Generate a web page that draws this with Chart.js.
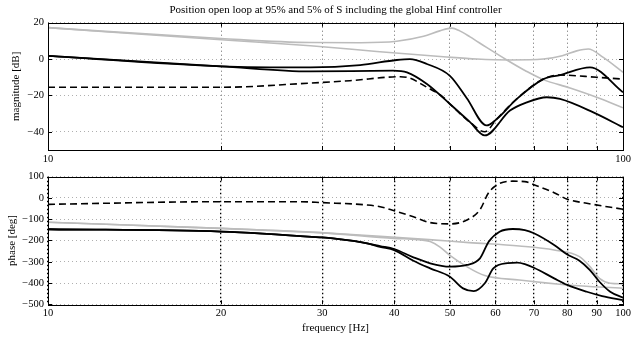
<!DOCTYPE html>
<html><head><meta charset="utf-8">
<script src="https://cdn.jsdelivr.net/npm/chart.js@4"></script>
<style>
html,body{margin:0;padding:0;background:#fff;}
#wrap{position:relative;width:631px;height:341px;overflow:hidden;background:#fff;}
canvas{position:absolute;left:0;}
#c1{top:0;} #c2{top:165px;}
</style></head><body>
<div id="wrap"><canvas id="c1" width="631" height="165"></canvas><canvas id="c2" width="631" height="176"></canvas></div>
<script>
// ---------- data ----------
const xTicks = [10,20,30,40,50,60,70,80,90,100];
const magTicks = [-40,-20,0,20];
const phaseTicks = [-500,-400,-300,-200,-100,0,100];

// magnitude [dB]
const magFreqGrayA = [10,20,28.6,35,40.4,45,48,50.4,52,54.2,57.9,62.8,68.0,72.7,80.9,90,100];
const magGrayA     = [17.3,11.3,9.1,9.0,9.8,12.5,15.5,17,15.5,12.2,6.4,-0.5,-6.8,-11.3,-15.9,-21,-26.8];
const magFreqGrayB = [10,20,28.6,37.3,48.7,55.7,63.6,72.7,78.4,83.1,87,92.4,100];
const magGrayB     = [17.3,10.6,7.3,4.2,1.3,0,-0.5,0,1.8,4.5,5.5,0.9,-7.3];
const magFreqBlackA = [10,20,28.6,34.9,40.4,42.6,45.6,50,53.5,57.9,60.3,65.3,72.7,77.7,87.6,100];
const magBlackA     = [1.8,-4,-4.6,-3.3,-0.5,0,-2.7,-9.2,-21.5,-36.5,-33,-22,-11,-8.8,-4.6,-18.3];
const magFreqBlackB = [10,20,28.6,39.8,42.1,45.6,50,54.2,57.5,63.6,68,73.7,77.7,88.8,100];
const magBlackB     = [1.8,-4,-6.8,-6.4,-7.3,-13.7,-24.7,-34.7,-42,-28.3,-23.8,-21,-21.9,-29.3,-37.5];
const magFreqDashed = [10,20,28.6,33.5,40.95,42.1,45.6,48.7,50,54.2,57.5,60.3,65.3,72.7,77.7,90,100];
const magDashed     = [-15.5,-15.5,-13.2,-11.9,-9.7,-10,-15.5,-21,-24.7,-34.7,-40,-33,-22,-11,-8.8,-10,-11];

// phase [deg]
const phFreqGrayA = [10,20,29.7,40,44,46.2,48,50,53.5,57.5,66,80,100];
const phGrayA     = [-114,-143,-163,-190,-196,-205,-230,-270,-323,-365,-386,-409,-425];
const phFreqGrayB = [10,20,29.7,37.8,46,54,66,75.9,84,87.6,91,95,100];
const phGrayB     = [-114,-143,-163,-180,-196,-210,-226,-245,-276,-323,-378,-401,-404];
const phFreqBlackA = [10,20,29.7,31.3,35.9,37.8,40,43.2,46.2,50,53.5,56.4,58.4,61,64.3,67.5,70,75.9,80,84,87.6,91,95,100];
const phBlackA     = [-147,-158,-185,-190,-213,-226,-240,-279,-307,-323,-315,-284,-206,-159,-146,-151,-166,-221,-266,-295,-339,-394,-441,-469];
const phFreqBlackB = [10,20,29.7,31.3,35.9,37.8,40,43.2,46.2,50,52.7,55,57.5,59.5,63,65.5,67.5,70,75.9,80,86.5,92,100];
const phBlackB     = [-147,-158,-185,-190,-213,-230,-245,-295,-331,-370,-425,-438,-401,-331,-306,-304,-311,-328,-378,-409,-441,-461,-480];
const phFreqDashed = [10,20,27.4,30,35.9,37.8,40,43.2,46.2,50,53.5,56.4,58.4,61,64.3,67.5,70,75.9,80,86.5,100];
const phDashed     = [-30,-17.5,-17.5,-22,-33,-41,-60,-88,-116,-122,-104,-55,25,68,79,77,62,25,-6,-25,-53];

// ---------- helpers ----------
const FONT = "'Liberation Serif','Times New Roman',serif";
const pts = (fs, vs) => fs.map((f, i) => ({x: f, y: vs[i]}));
const fmt = v => String(v).replace('-', '\u2212');
const GRAY = '#bcbcbc';

function ds(data, color, dashed, width) {
  return {data, borderColor: color, borderWidth: width, pointRadius: 0,
    borderDash: dashed ? [7, 4] : [], cubicInterpolationMode: 'monotone', fill: false};
}

const boxPlugin = {
  id: 'boxTicks',
  afterDraw(chart) {
    const {ctx, chartArea: a, scales} = chart;
    ctx.save();
    ctx.strokeStyle = '#000';
    ctx.lineWidth = 1;
    ctx.beginPath();
    xTicks.forEach(v => {
      const p = Math.round(scales.x.getPixelForValue(v)) + 0.5;
      ctx.moveTo(p, a.bottom); ctx.lineTo(p, a.bottom - 4);
      ctx.moveTo(p, a.top); ctx.lineTo(p, a.top + 4);
    });
    chart.options.yTickList.forEach(v => {
      const p = Math.round(scales.y.getPixelForValue(v)) + 0.5;
      ctx.moveTo(a.left, p); ctx.lineTo(a.left + 4, p);
      ctx.moveTo(a.right, p); ctx.lineTo(a.right - 4, p);
    });
    ctx.stroke();
    ctx.strokeRect(Math.round(a.left) + 0.5, Math.round(a.top) + 0.5,
      Math.round(a.right - a.left), Math.round(a.bottom - a.top));
    ctx.restore();
  }
};

function makeChart(canvas, cfg) {
  return new Chart(canvas, {
    type: 'line',
    data: {datasets: cfg.datasets},
    plugins: [boxPlugin],
    options: {
      yTickList: cfg.yTicks,
      responsive: false, animation: false, events: [],
      layout: {padding: {left: 0, right: 8, top: cfg.padTop, bottom: 0}},
      plugins: {
        legend: {display: false}, tooltip: {enabled: false},
        title: cfg.title ? {display: true, text: cfg.title, color: '#000', fullSize: false,
          font: {family: FONT, size: 11, weight: 'normal', lineHeight: 1.2},
          padding: {top: 3.5, bottom: 6}} : {display: false}
      },
      scales: {
        x: {
          type: 'logarithmic', min: 10, max: 100,
          afterBuildTicks: s => { s.ticks = xTicks.map(v => ({value: v})); },
          afterFit: s => { s.height = cfg.xHeight; s.paddingLeft = 0; s.paddingRight = 0; },
          ticks: {autoSkip: false, maxRotation: 0, padding: 3, color: '#000',
            font: {family: FONT, size: 10.5},
            callback: v => cfg.allXLabels || v === 10 || v === 100 ? String(v) : ''},
          grid: {color: cfg.xGridColor, lineWidth: cfg.xGridWidth, drawTicks: false},
          border: {display: false, dash: cfg.xDash},
          title: cfg.xTitle ? {display: true, text: cfg.xTitle, color: '#000',
            font: {family: FONT, size: 11, lineHeight: 1.2}, padding: {top: 0, bottom: 6.5}} : {display: false}
        },
        y: {
          min: cfg.yMin, max: cfg.yMax,
          afterBuildTicks: s => { s.ticks = cfg.yTicks.map(v => ({value: v})); },
          afterFit: s => { s.width = 48; s.paddingTop = 0; s.paddingBottom = 0; },
          ticks: {padding: 4, color: '#000', font: {family: FONT, size: 10.5}, callback: v => fmt(v)},
          grid: {color: '#9a9a9a', lineWidth: 0.8, drawTicks: false},
          border: {display: false, dash: [1, 3]},
          title: {display: true, text: cfg.yTitle, color: '#000',
            font: {family: FONT, size: 11, lineHeight: 1.2}, padding: {top: cfg.yTitlePad, bottom: 0}}
        }
      }
    }
  });
}

makeChart(document.getElementById('c1'), {
  title: 'Position open loop at 95% and 5% of S including the global Hinf controller',
  padTop: 0, xHeight: 15, yMin: -50, yMax: 20, yTicks: magTicks,
  yTitle: 'magnitude [dB]', yTitlePad: 10, allXLabels: false,
  xGridColor: '#555', xGridWidth: 0.9, xDash: [1, 3],
  datasets: [
    ds(pts(magFreqBlackA, magBlackA), '#000', false, 1.8),
    ds(pts(magFreqBlackB, magBlackB), '#000', false, 1.8),
    ds(pts(magFreqDashed, magDashed), '#000', true, 1.6),
    ds(pts(magFreqGrayA, magGrayA), GRAY, false, 1.6),
    ds(pts(magFreqGrayB, magGrayB), GRAY, false, 1.6)
  ]
});

makeChart(document.getElementById('c2'), {
  title: null,
  padTop: 11.7, xHeight: 36.7, yMin: -500, yMax: 100, yTicks: phaseTicks,
  yTitle: 'phase [deg]', yTitlePad: 6, allXLabels: true, xTitle: 'frequency [Hz]',
  xGridColor: '#000', xGridWidth: 1.3, xDash: [1.5, 2.5],
  datasets: [
    ds(pts(phFreqBlackA, phBlackA), '#000', false, 1.8),
    ds(pts(phFreqBlackB, phBlackB), '#000', false, 1.8),
    ds(pts(phFreqDashed, phDashed), '#000', true, 1.6),
    ds(pts(phFreqGrayA, phGrayA), GRAY, false, 1.6),
    ds(pts(phFreqGrayB, phGrayB), GRAY, false, 1.6)
  ]
});
</script></body></html>
